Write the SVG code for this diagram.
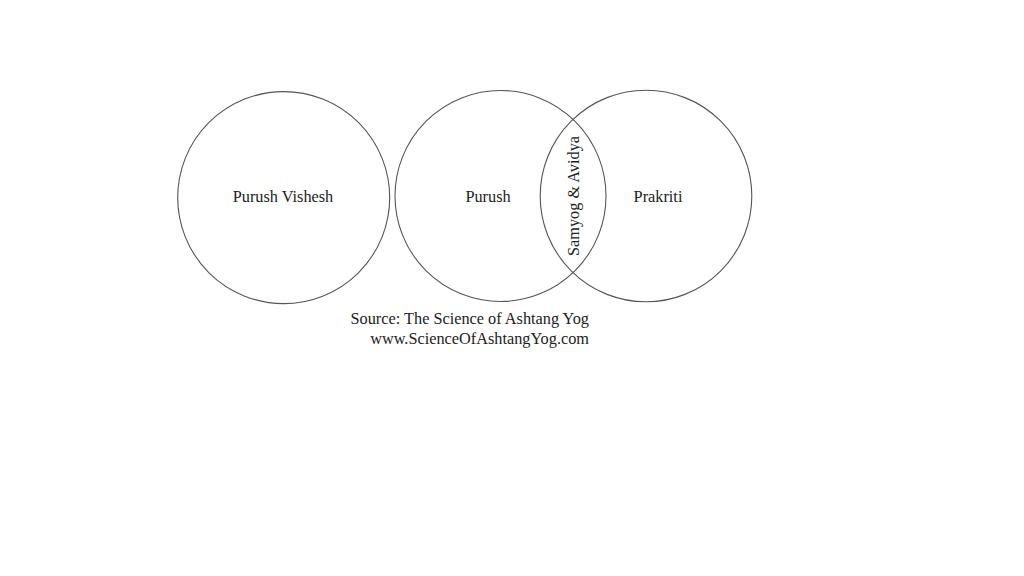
<svg xmlns="http://www.w3.org/2000/svg" width="1024" height="576" viewBox="0 0 1024 576">
<style>
.c{fill:none;stroke:#555;stroke-width:1.1}
.t{font-family:"Liberation Serif","DejaVu Serif",serif;font-size:16.3px;fill:#222}
</style>
<rect width="1024" height="576" fill="#fff"/>
<g id="purush-vishesh"><circle class="c" cx="283.7" cy="197.6" r="106"/><text class="t" x="283" y="202" text-anchor="middle">Purush Vishesh</text></g>
<g id="purush"><circle class="c" cx="500.5" cy="196" r="105.5"/><text class="t" x="488" y="202" text-anchor="middle">Purush</text></g>
<g id="prakriti"><circle class="c" cx="646" cy="196" r="105.8"/><text class="t" x="658" y="202" text-anchor="middle">Prakriti</text></g>
<g id="samyog"><text class="t" transform="translate(578.5,196) rotate(-90)" text-anchor="middle">Samyog &amp; Avidya</text></g>
<g id="connectors"></g>
<g id="source">
<text class="t" x="589" y="324" text-anchor="end">Source: The Science of Ashtang Yog</text>
<text class="t" x="589" y="344" text-anchor="end">www.ScienceOfAshtangYog.com</text>
</g>
</svg>
